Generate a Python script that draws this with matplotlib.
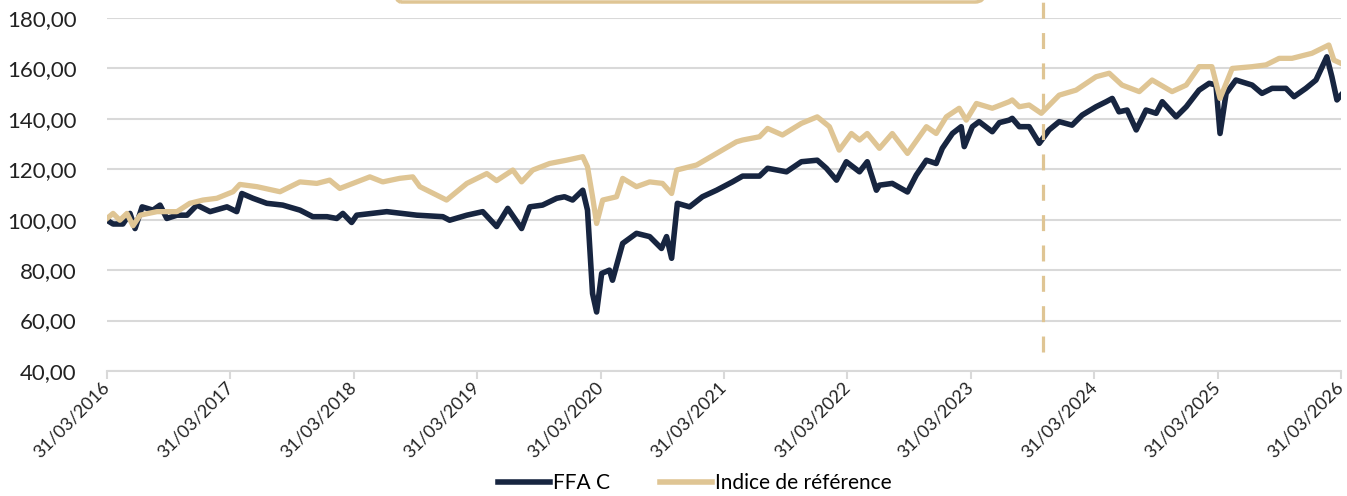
import pandas as pd
import matplotlib.pyplot as plt
from matplotlib.patches import FancyBboxPatch
from matplotlib.transforms import IdentityTransform

plt.rcParams['font.family'] = ['Lato', 'DejaVu Sans']

# FFA C (base 100 au 31/03/2016)
ffa_dates = [
    "2016-03-31", "2016-04-18", "2016-05-17", "2016-06-07", "2016-06-22", "2016-07-13",
    "2016-08-14", "2016-09-04", "2016-09-24", "2016-10-24", "2016-11-23", "2016-12-22",
    "2017-01-30", "2017-03-21", "2017-04-19", "2017-05-04", "2017-06-06", "2017-07-17",
    "2017-09-02", "2017-10-23", "2017-11-30", "2018-01-11", "2018-02-09", "2018-02-27",
    "2018-03-25", "2018-04-09", "2018-07-07", "2018-10-04", "2018-12-20", "2019-01-09",
    "2019-03-01", "2019-04-17", "2019-05-28", "2019-06-30", "2019-08-10", "2019-09-03",
    "2019-10-11", "2019-11-22", "2019-12-15", "2020-01-08", "2020-02-07", "2020-02-21",
    "2020-03-07", "2020-03-19", "2020-04-03", "2020-04-26", "2020-05-05", "2020-06-04",
    "2020-07-15", "2020-08-23", "2020-09-27", "2020-10-12", "2020-10-27", "2020-11-13",
    "2020-12-19", "2021-01-26", "2021-03-09", "2021-04-25", "2021-05-25", "2021-07-14",
    "2021-08-07", "2021-10-02", "2021-11-15", "2022-01-01", "2022-01-28", "2022-02-27",
    "2022-03-28", "2022-05-06", "2022-05-29", "2022-06-25", "2022-07-04", "2022-08-11",
    "2022-09-25", "2022-10-21", "2022-11-20", "2022-12-19", "2023-01-06", "2023-02-05",
    "2023-03-03", "2023-03-12", "2023-04-05", "2023-04-25", "2023-06-03", "2023-06-24",
    "2023-07-23", "2023-08-01", "2023-08-22", "2023-09-20", "2023-10-20", "2023-11-18",
    "2023-12-18", "2024-01-25", "2024-02-24", "2024-04-05", "2024-05-05", "2024-05-23",
    "2024-06-12", "2024-07-06", "2024-08-02", "2024-08-31", "2024-09-30", "2024-10-18",
    "2024-11-28", "2024-12-28", "2025-02-04", "2025-03-06", "2025-03-26", "2025-04-07",
    "2025-04-25", "2025-05-24", "2025-07-11", "2025-08-09", "2025-09-08", "2025-10-19",
    "2025-11-12", "2025-12-17", "2026-01-16", "2026-02-17", "2026-03-04", "2026-03-19",
    "2026-03-31",
]
ffa_values = [
    99.8, 98.3, 98.3, 102.5, 96.5, 105.1,
    103.8, 105.8, 100.5, 101.8, 101.8, 105.8,
    103.2, 105.1, 103.2, 110.4, 108.5, 106.5,
    105.8, 103.8, 101.2, 101.2, 100.5, 102.5,
    98.9, 101.8, 103.2, 101.8, 101.2, 99.8,
    101.8, 103.2, 97.3, 104.5, 96.5, 105.1,
    105.8, 108.5, 109.1, 107.8, 111.7, 103.8,
    70.7, 63.4, 78.7, 80.0, 76.0, 90.6,
    94.6, 93.3, 88.6, 93.3, 84.7, 106.5,
    105.1, 109.1, 111.7, 115.0, 117.3, 117.3,
    120.4, 119.0, 123.0, 123.6, 120.4, 115.7,
    123.0, 119.0, 123.0, 111.7, 113.7, 114.4,
    111.0, 117.7, 123.6, 122.3, 128.3, 134.2,
    136.9, 129.0, 136.9, 138.9, 134.9, 138.5,
    139.5, 140.2, 136.9, 136.9, 130.3, 135.6,
    138.9, 137.5, 141.5, 144.8, 146.8, 148.1,
    142.8, 143.5, 135.6, 143.5, 142.2, 146.8,
    140.8, 144.8, 151.4, 154.1, 153.4, 134.2,
    150.1, 155.4, 153.4, 150.1, 152.1, 152.1,
    148.8, 152.1, 155.4, 164.6, 156.7, 147.5,
    149.4,
]

# Indice de référence
ref_dates = [
    "2016-03-31", "2016-04-18", "2016-05-08", "2016-05-29", "2016-06-16", "2016-07-07",
    "2016-08-26", "2016-10-24", "2016-12-01", "2017-01-09", "2017-02-19", "2017-04-08",
    "2017-04-28", "2017-06-18", "2017-08-25", "2017-10-23", "2017-12-12", "2018-01-19",
    "2018-02-18", "2018-05-18", "2018-06-25", "2018-08-14", "2018-09-22", "2018-10-13",
    "2018-12-31", "2019-03-01", "2019-04-29", "2019-05-28", "2019-07-15", "2019-08-10",
    "2019-09-12", "2019-11-01", "2019-12-21", "2020-02-07", "2020-02-21", "2020-03-07",
    "2020-03-19", "2020-04-06", "2020-05-17", "2020-06-04", "2020-07-15", "2020-08-23",
    "2020-09-30", "2020-10-27", "2020-11-11", "2021-01-09", "2021-03-09", "2021-05-07",
    "2021-05-25", "2021-07-14", "2021-08-07", "2021-09-20", "2021-11-15", "2022-01-01",
    "2022-02-06", "2022-03-07", "2022-04-12", "2022-05-06", "2022-05-29", "2022-07-04",
    "2022-08-11", "2022-09-25", "2022-11-20", "2022-12-19", "2023-01-18", "2023-02-25",
    "2023-03-18", "2023-04-17", "2023-06-03", "2023-07-23", "2023-08-01", "2023-08-22",
    "2023-09-20", "2023-10-26", "2023-12-18", "2024-02-06", "2024-04-05", "2024-05-14",
    "2024-06-21", "2024-08-11", "2024-09-18", "2024-11-16", "2024-12-28", "2025-02-04",
    "2025-03-14", "2025-04-07", "2025-05-13", "2025-07-11", "2025-08-21", "2025-09-29",
    "2025-11-06", "2026-01-04", "2026-02-23", "2026-03-10", "2026-03-31",
]
ref_values = [
    100.5, 102.5, 99.8, 102.5, 97.6, 101.8,
    103.2, 103.2, 106.5, 107.8, 108.5, 111.1,
    114.0, 113.1, 111.1, 115.0, 114.4, 115.7,
    112.4, 117.0, 115.0, 116.4, 117.0, 113.1,
    107.8, 114.4, 118.3, 115.5, 119.7, 115.0,
    119.7, 122.3, 123.6, 125.0, 121.0, 109.1,
    98.5, 107.8, 109.1, 116.4, 113.1, 115.0,
    114.4, 110.4, 119.7, 121.7, 126.3, 130.9,
    131.6, 132.9, 136.2, 133.6, 138.2, 140.8,
    136.9, 127.6, 134.2, 131.6, 134.2, 128.3,
    134.2, 126.3, 136.9, 134.2, 140.8, 144.2,
    139.5, 146.1, 144.2, 146.8, 147.5, 144.8,
    145.5, 142.2, 149.4, 151.4, 156.7, 158.1,
    153.4, 150.8, 155.4, 150.8, 153.4, 160.7,
    160.7, 148.1, 160.0, 160.7, 161.4, 164.0,
    164.0, 166.0, 169.3, 163.3, 162.0,
]

series_names = ["FFA C", "Indice de référence"]
x_ticks = [f"{y}-03-31" for y in range(2016, 2027)]
y_ticks = [40, 60, 80, 100, 120, 140, 160, 180]
marker_date = "2023-11-01"

navy = "#172540"
beige = "#dfc594"
grid_col = "#d9d9d9"

fig = plt.figure(figsize=(13.47, 4.96), dpi=100)
ax = fig.add_axes([107 / 1347, 1 - 371 / 496, 1234 / 1347, 353 / 496])

ax.plot(pd.to_datetime(ffa_dates), ffa_values, color=navy, lw=4,
        solid_joinstyle="round", label=series_names[0], zorder=3)
ax.plot(pd.to_datetime(ref_dates), ref_values, color=beige, lw=3.8,
        solid_joinstyle="round", label=series_names[1], zorder=4)

ax.vlines(pd.Timestamp(marker_date), 47.5, 188, colors=beige, lw=2.3,
          linestyles=(0, (5, 4.5)), clip_on=False, zorder=5)

ax.set_xlim(pd.Timestamp(x_ticks[0]), pd.Timestamp(x_ticks[-1]))
ax.set_ylim(40, 180)

xt = pd.to_datetime(x_ticks)
ax.set_xticks(xt)
ax.set_xticklabels([d.strftime("%d/%m/%Y") for d in xt], rotation=45,
                   ha="right", va="center", rotation_mode="anchor", fontsize=13,
                   color="#222222")
ax.set_yticks(y_ticks)
ax.set_yticklabels([f"{v:.2f}".replace(".", ",") for v in y_ticks],
                   fontsize=16, color="#222222")

ax.tick_params(axis="y", length=0, pad=22)
ax.tick_params(axis="x", length=6, width=1.5, color=grid_col, pad=4)
ax.grid(axis="y", color=grid_col, lw=1.5)
ax.set_axisbelow(True)
for side in ["top", "right", "left"]:
    ax.spines[side].set_visible(False)
ax.spines["bottom"].set_color(grid_col)
ax.spines["bottom"].set_linewidth(1.5)

# cadre de l'encart en haut (coupé par le bord)
box = FancyBboxPatch((391, 494), 594, 60, boxstyle="round,pad=0,rounding_size=10",
                     transform=IdentityTransform(), fill=False, edgecolor=beige, lw=2.5)
fig.add_artist(box)

leg = fig.legend(loc="center", bbox_to_anchor=(0.516, 13 / 496), ncol=2, frameon=False,
                 fontsize=15, handlelength=2.5, handletextpad=0.15, columnspacing=2.4,
                 borderpad=0)
for h in leg.get_lines():
    h.set_linewidth(4)

fig.savefig("out.png", dpi=100)
